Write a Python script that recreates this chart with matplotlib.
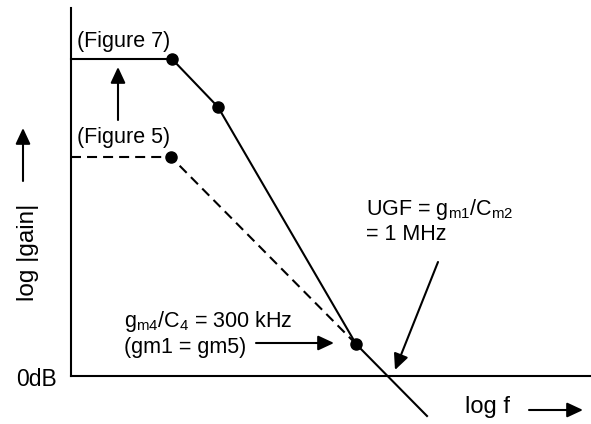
import matplotlib
matplotlib.use("Agg")
import matplotlib.pyplot as plt

plt.rcParams['font.family'] = ['Liberation Sans', 'DejaVu Sans']
plt.rcParams['mathtext.fontset'] = 'custom'
plt.rcParams['mathtext.rm'] = 'Liberation Sans'
plt.rcParams['mathtext.it'] = 'Liberation Sans'
plt.rcParams['mathtext.bf'] = 'Liberation Sans:bold'

# Bode sketch data (arbitrary log f / log gain units, origin at 0dB axis)
fig7_x = [0, 101, 147, 285, 356]
fig7_y = [317, 317, 269, 32, -40]
fig7_dots_x = [101, 147, 285]
fig7_dots_y = [317, 269, 32]
fig5_x = [0, 100, 285]
fig5_y = [219, 219, 32]
fig5_dots_x = [100]
fig5_dots_y = [219]

fig = plt.figure(figsize=(5.91, 4.24), dpi=100)
ax = fig.add_axes([0, 0, 1, 1])
ax.set_xlim(-71, 520)
ax.set_ylim(-48, 376)
ax.axis('off')

lw = 1.5
fs = 15.5
# axes
ax.plot([0, 0], [0, 368], color='black', lw=lw)
ax.plot([0, 520], [0, 0], color='black', lw=lw)

ax.plot(fig7_x, fig7_y, color='black', lw=lw)
ax.plot(fig7_dots_x, fig7_dots_y, 'o', color='black', ms=8)
ax.plot(fig5_x, fig5_y, color='black', lw=lw, dashes=(4.8, 2.9))
ax.plot(fig5_dots_x, fig5_dots_y, 'o', color='black', ms=8)

ap = dict(arrowstyle='-|>,head_length=0.6,head_width=0.28', color='black', lw=1.5,
          mutation_scale=16, shrinkA=0, shrinkB=0)
ax.annotate('', xy=(-48, 248), xytext=(-48, 195), arrowprops=ap)
ax.annotate('', xy=(47, 309), xytext=(47, 256), arrowprops=ap)
ax.annotate('', xy=(263, 33), xytext=(185, 33), arrowprops=ap)
ax.annotate('', xy=(324, 6), xytext=(367, 114), arrowprops=ap)
ax.annotate('', xy=(512, -34), xytext=(458, -34), arrowprops=ap)

ax.text(6, 335, '(Figure 7)', fontsize=fs, ha='left', va='center')
ax.text(6, 238, '(Figure 5)', fontsize=fs, ha='left', va='center')
ax.text(-55, -3, '0dB', fontsize=16.5, ha='left', va='center')
ax.text(-43, 124, 'log |gain|', fontsize=17.5, ha='center', va='center', rotation=90)
ax.text(53, 54, r'g$_{\mathrm{m4}}$/C$_{\mathrm{4}}$ = 300 kHz', fontsize=fs, ha='left', va='center')
ax.text(53, 29, '(gm1 = gm5)', fontsize=fs, ha='left', va='center')
ax.text(295, 166, r'UGF = g$_{\mathrm{m1}}$/C$_{\mathrm{m2}}$', fontsize=fs, ha='left', va='center')
ax.text(295, 141, '= 1 MHz', fontsize=fs, ha='left', va='center')
ax.text(394, -31, 'log f', fontsize=17, ha='left', va='center')

fig.savefig('out.png', dpi=100)
